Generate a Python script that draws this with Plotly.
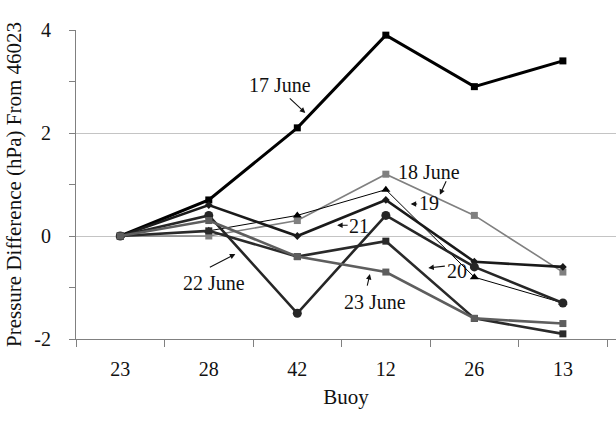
import plotly.graph_objects as go

# Buoys along the x axis (reference buoy 46023 first)
buoys = ["23", "28", "42", "12", "26", "13"]

# Pressure difference from buoy 46023 (hPa), one series per day
june17 = [0.0, 0.7, 2.1, 3.9, 2.9, 3.4]
june18 = [0.0, 0.0, 0.3, 1.2, 0.4, -0.7]
june19 = [0.0, 0.1, 0.4, 0.9, -0.8, -1.3]
june20 = [0.0, 0.1, -0.4, -0.1, -1.6, -1.9]
june21 = [0.0, 0.6, 0.0, 0.7, -0.5, -0.6]
june22 = [0.0, 0.4, -1.5, 0.4, -0.6, -1.3]
june23 = [0.0, 0.3, -0.4, -0.7, -1.6, -1.7]

FONT = "Liberation Serif, Times New Roman, serif"

series = [
    ("17 June", june17, "#000000", 3.0, "square", 7),
    ("18 June", june18, "#808080", 1.6, "square", 7),
    ("19 June", june19, "#000000", 1.0, "triangle-up", 8),
    ("20 June", june20, "#2a2a2a", 2.6, "square", 7),
    ("21 June", june21, "#1a1a1a", 2.6, "diamond", 6),
    ("22 June", june22, "#262626", 2.6, "circle", 9),
    ("23 June", june23, "#5e5e5e", 2.6, "square", 7),
]

fig = go.Figure()
for name, vals, color, width, symbol, size in series:
    fig.add_trace(go.Scatter(
        x=buoys, y=vals, name=name, mode="lines+markers",
        line=dict(color=color, width=width),
        marker=dict(symbol=symbol, size=size, color=color),
        showlegend=False,
    ))

# Day labels placed beside their lines
labels = [
    ("17 June", 1.81, 2.93),
    ("18 June", 3.49, 1.24),
    ("19", 3.49, 0.64),
    ("21", 2.70, 0.19),
    ("20", 3.80, -0.68),
    ("22 June", 1.06, -0.91),
    ("23 June", 2.88, -1.28),
]
for text, x, y in labels:
    fig.add_annotation(x=x, y=y, xref="x", yref="y", text=text, showarrow=False,
                       font=dict(family=FONT, size=20, color="#111"))

# Leader arrows from each label to its line
arrows = [
    (2.09, 2.39, -17, -16),
    (3.61, 0.80, 7, -15),
    (3.28, 0.62, 8, 0),
    (2.45, 0.21, 12, 0),
    (3.48, -0.62, 18, -2),
    (1.30, -0.35, -27, 14),
    (2.82, -0.74, -3, 13),
]
for x, y, ax, ay in arrows:
    fig.add_annotation(x=x, y=y, xref="x", yref="y", text="", showarrow=True,
                       ax=ax, ay=ay, arrowhead=2, arrowsize=1, arrowwidth=1.1,
                       arrowcolor="#111")

fig.update_layout(
    width=616, height=422,
    margin=dict(l=76, r=0, t=30, b=83),
    paper_bgcolor="white", plot_bgcolor="white",
    font=dict(family=FONT, size=20, color="#111"),
)
fig.update_xaxes(
    type="category", range=[-0.5, 5.6],
    tickson="boundaries", ticks="outside", ticklen=7, tickcolor="#808080",
    showline=True, linecolor="#808080", linewidth=1.2,
    showgrid=False, ticklabelstandoff=12,
    title=dict(text="Buoy", font=dict(family=FONT, size=21), standoff=10),
)
fig.update_yaxes(
    range=[-2, 4], tickvals=[-2, 0, 2, 4], ticktext=["-2", "0", "2", "4"],
    ticks="outside", ticklen=6, tickcolor="#808080",
    minor=dict(dtick=1, ticks="outside", ticklen=6, tickcolor="#808080", showgrid=False),
    showline=True, linecolor="#808080", linewidth=1.2,
    showgrid=True, gridcolor="#c4c4c4", gridwidth=1, zeroline=False,
    ticklabelstandoff=14,
    title=dict(text="Pressure Difference (hPa) From 46023",
               font=dict(family=FONT, size=21), standoff=6),
)

fig.write_html("out.html")
